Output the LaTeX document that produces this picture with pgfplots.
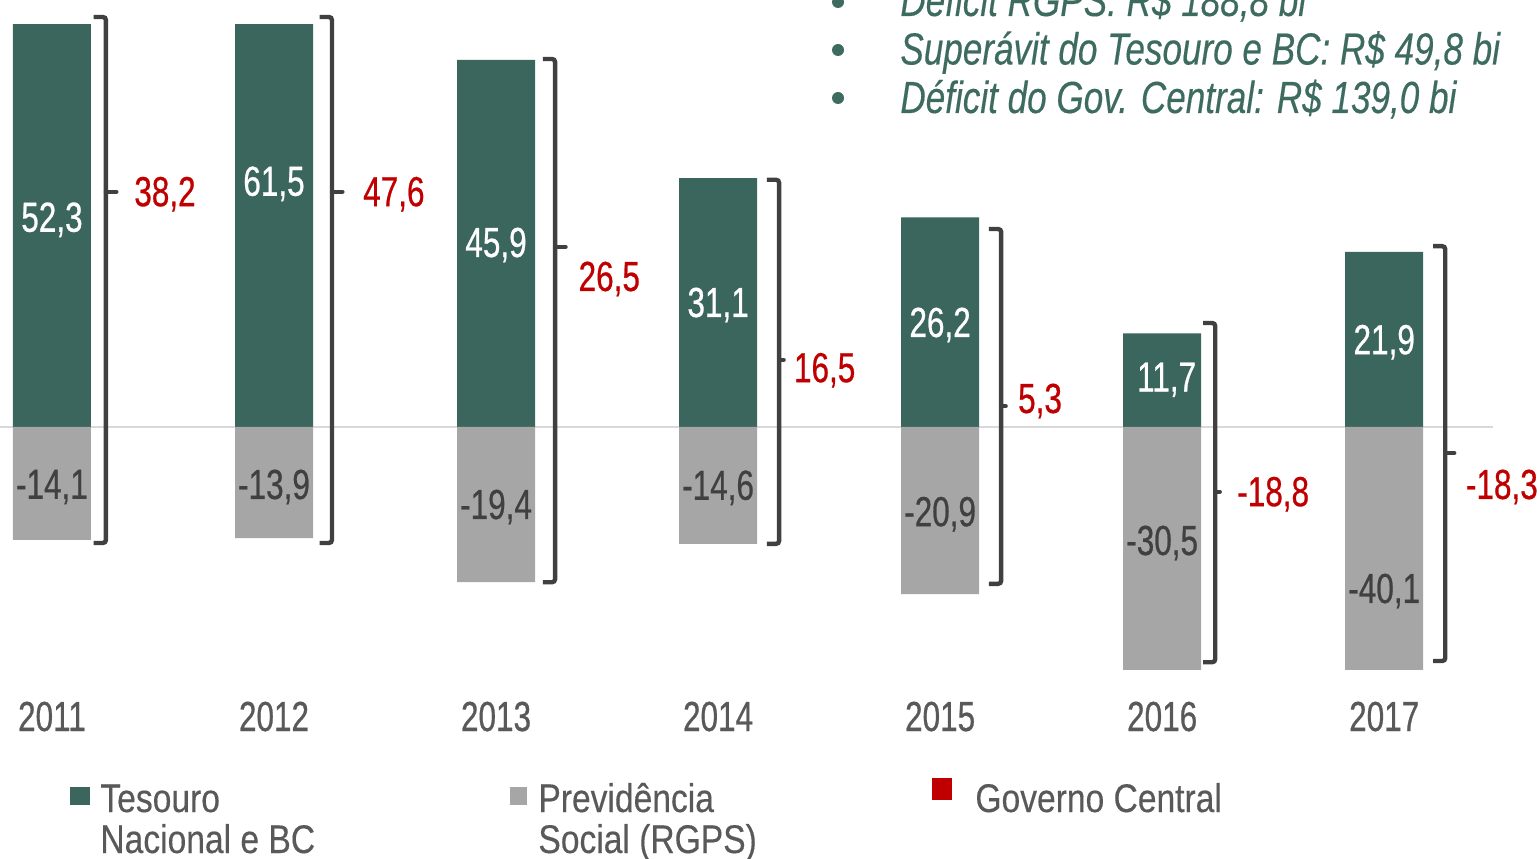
\documentclass[border=0pt]{standalone}
\usepackage{fontspec}
\setmainfont{Liberation Sans}[FakeStretch=0.75, FakeBold=0.6]
\newfontfamily\legfont{Liberation Sans}[FakeStretch=0.84, FakeBold=0.3]
\newfontfamily\hdrfont{Liberation Sans}[FakeStretch=0.78, FakeBold=0.3]
\usepackage{pgfplots}
\pgfplotsset{compat=1.18}

\definecolor{tesouro}{HTML}{3B665D}
\definecolor{rgps}{HTML}{A6A6A6}
\definecolor{gc}{HTML}{C00000}
\definecolor{brk}{HTML}{404040}
\definecolor{txt}{HTML}{595959}
\definecolor{hdr}{HTML}{3D6B5F}

% resultado primario (R$ bi)
\pgfplotstableread{
x tes prev
0 52.3 -14.1
1 61.5 -13.9
2 45.9 -19.4
3 31.1 -14.6
4 26.2 -20.9
5 11.7 -30.5
6 21.9 -40.1
}\dados

\begin{document}
\begin{tikzpicture}[font=\fontsize{21}{25}\selectfont,
  brace/.style={brk, line width=2.2pt, rounded corners=1.5pt},
  nub/.style={brk, line width=2.2pt, line cap=round}]
\begin{axis}[
    scale only axis,
    width=746.5pt, height=322pt,
    xmin=-0.234, xmax=6.49,
    ymin=-30.25, ymax=50.25,
    axis line style={draw=none},
    ytick=\empty,
    xtick={0,1,2,3,4,5,6},
    xticklabels={2011,2012,2013,2014,2015,2016,2017},
    major tick length=0pt,
    xticklabel style={anchor=base, yshift=-31pt, text=txt},
    extra y ticks={0},
    extra y tick labels={},
    extra y tick style={grid=major, major tick length=0pt,
        major grid style={draw=black!15, line width=1pt}},
    ybar, bar width=39pt, bar shift=0pt,
    clip mode=individual,
]
\addplot[fill=tesouro, draw=none] table[x=x, y=tes] {\dados};
\addplot[fill=rgps, draw=none] table[x=x, y=prev] {\dados};

% valores nas barras
\node[text=white] at (axis cs:0,25.9) {52,3};
\node[text=white] at (axis cs:1,30.4) {61,5};
\node[text=white] at (axis cs:2,22.75) {45,9};
\node[text=white] at (axis cs:3,15.25) {31,1};
\node[text=white] at (axis cs:4,12.75) {26,2};
\node[text=white] at (axis cs:5.02,5.9) {11,7};
\node[text=white] at (axis cs:6,10.6) {21,9};
\node[text=brk] at (axis cs:0,-7.5) {-14,1};
\node[text=brk] at (axis cs:1,-7.5) {-13,9};
\node[text=brk] at (axis cs:2,-10) {-19,4};
\node[text=brk] at (axis cs:3,-7.6) {-14,6};
\node[text=brk] at (axis cs:4,-10.9) {-20,9};
\node[text=brk] at (axis cs:5,-14.5) {-30,5};
\node[text=brk] at (axis cs:6,-20.5) {-40,1};

% chaves
\draw[brace] (axis cs:0.188,51.25) -- (axis cs:0.243,51.25) -- (axis cs:0.243,-14.5) -- (axis cs:0.188,-14.5);
\draw[brace] (axis cs:1.206,51.25) -- (axis cs:1.261,51.25) -- (axis cs:1.261,-14.5) -- (axis cs:1.206,-14.5);
\draw[brace] (axis cs:2.211,46.0) -- (axis cs:2.266,46.0) -- (axis cs:2.266,-19.4) -- (axis cs:2.211,-19.4);
\draw[brace] (axis cs:3.220,30.9) -- (axis cs:3.275,30.9) -- (axis cs:3.275,-14.6) -- (axis cs:3.220,-14.6);
\draw[brace] (axis cs:4.220,24.75) -- (axis cs:4.275,24.75) -- (axis cs:4.275,-19.6) -- (axis cs:4.220,-19.6);
\draw[brace] (axis cs:5.184,13.0) -- (axis cs:5.239,13.0) -- (axis cs:5.239,-29.4) -- (axis cs:5.184,-29.4);
\draw[brace] (axis cs:6.220,22.6) -- (axis cs:6.275,22.6) -- (axis cs:6.275,-29.25) -- (axis cs:6.220,-29.25);
\draw[nub] (axis cs:0.243,29.4) -- (axis cs:0.290,29.4);
\draw[nub] (axis cs:1.261,29.4) -- (axis cs:1.308,29.4);
\draw[nub] (axis cs:2.266,22.5) -- (axis cs:2.313,22.5);
\draw[nub] (axis cs:3.275,8.4) -- (axis cs:3.295,8.4);
\draw[nub] (axis cs:4.275,2.6) -- (axis cs:4.295,2.6);
\draw[nub] (axis cs:5.239,-8.1) -- (axis cs:5.259,-8.1);
\draw[nub] (axis cs:6.275,-3.25) -- (axis cs:6.315,-3.25);

% governo central
\node[text=gc] at (axis cs:0.509,29.1) {38,2};
\node[text=gc] at (axis cs:1.54,29.1) {47,6};
\node[text=gc] at (axis cs:2.51,18.5) {26,5};
\node[text=gc] at (axis cs:3.48,7.1) {16,5};
\node[text=gc] at (axis cs:4.45,3.25) {5,3};
\node[text=gc] at (axis cs:5.50,-8.4) {-18,8};
\node[text=gc] at (axis cs:6.53,-7.5) {-18,3};
\end{axis}

% destaques
\fill[hdr] (419pt,333.5pt) circle (3pt);
\fill[hdr] (419pt,309.5pt) circle (3pt);
\fill[hdr] (419pt,285.5pt) circle (3pt);
\begin{scope}[every node/.style={text=hdr, anchor=base west, inner sep=0pt,
    font=\hdrfont\itshape\fontsize{22.5}{26}\selectfont}]
\node at (450pt,326.5pt) {Déficit RGPS: R\$ 188,8 bi};
\node at (450pt,302.25pt) {Superávit do Tesouro e BC: R\$ 49,8 bi};
\node at (450pt,278pt) {Déficit do Gov. Central: R\$ 139,0 bi};
\end{scope}

% legenda
\begin{scope}[every node/.style={text=txt, anchor=base west, inner sep=0pt, font=\legfont\fontsize{20}{24}\selectfont}]
\fill[tesouro] (35pt,-68pt) rectangle (45pt,-59pt);
\node at (50pt,-71.5pt) {Tesouro};
\node at (50pt,-92pt) {Nacional e BC};
\fill[rgps] (255pt,-68pt) rectangle (263.5pt,-59pt);
\node at (269pt,-71.5pt) {Previdência};
\node at (269pt,-92pt) {Social (RGPS)};
\fill[gc] (466pt,-65.5pt) rectangle (476pt,-54.5pt);
\node at (487.5pt,-71.5pt) {Governo Central};
\end{scope}

\pgfresetboundingbox
\path[use as bounding box] (0,-94.5pt) rectangle (770pt,334.5pt);
\end{tikzpicture}
\end{document}
